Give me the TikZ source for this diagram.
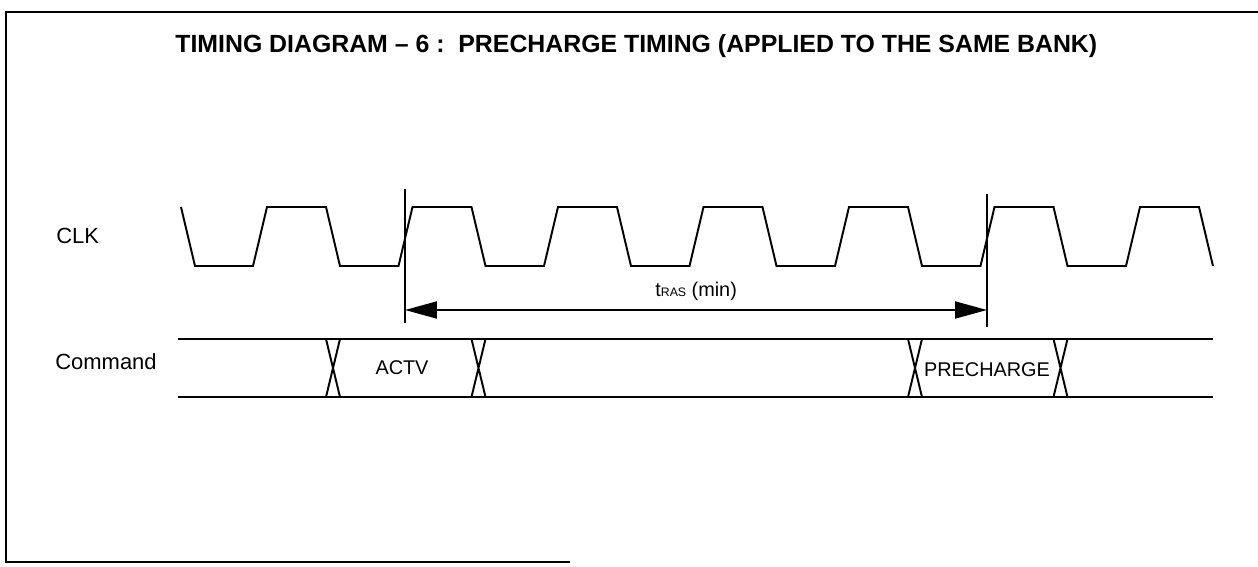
\documentclass[tikz,border=0pt]{standalone}
\usepackage{fontspec}
\setmainfont{Liberation Sans}
\usetikzlibrary{arrows.meta}
\begin{document}
\begin{tikzpicture}[x=0.02cm,y=-0.02cm,
  wave/.style={line width=1.1pt, line join=miter},
  busline/.style={line width=1.1pt},
  marker/.style={line width=1.1pt},
  dimarrow/.style={line width=1.1pt, {Triangle[length=0.64cm,width=0.34cm]}-{Triangle[length=0.64cm,width=0.34cm]}},
  sidelbl/.style={inner sep=0pt, anchor=base west, font=\fontsize{12.5}{14}\selectfont},
  buslbl/.style={inner sep=0pt, anchor=base, font=\fontsize{11.3}{13}\selectfont},
  framestyle/.style={line width=0.8pt}]
\useasboundingbox (0,0) rectangle (1258,566);
% frame
\draw[framestyle] (1258,12) -- (6,12) -- (6,562) -- (570,562);
% title
\node[inner sep=0pt, anchor=base west] (title) at (175,52)
  {\resizebox{18.44cm}{!}{\bfseries\fontsize{13.4}{16}\selectfont TIMING DIAGRAM -- 6 :\ \ PRECHARGE TIMING (APPLIED TO THE SAME BANK)}};
% labels
\node[sidelbl] (clk) at (56,243) {CLK};
\node[sidelbl] (cmd) at (55,369) {Command};
% clock
\draw[wave] (181,207) -- (195,266) -- (253,266)
  \foreach \k in {0,...,5} { -- ({253+\k*145.5+14},207) -- ({253+\k*145.5+73},207) -- ({253+\k*145.5+87},266) -- ({253+\k*145.5+145.5},266) }
  -- (1140,207) -- (1199,207) -- (1213,266);
% markers
\coordinate (m1top) at (405,189);
\coordinate (m1bot) at (405,323);
\coordinate (m2top) at (987,194);
\coordinate (m2bot) at (987,327);
\coordinate (a1) at (405,310);
\coordinate (a2) at (987,310);
\draw[marker] (m1top) -- (m1bot);
\draw[marker] (m2top) -- (m2bot);
\draw[dimarrow] (a1) -- (a2);
\node[inner sep=0pt, anchor=base west, font=\fontsize{11.3}{13}\selectfont] (tras) at (655,296)
  {t{\fontsize{7}{8}\selectfont RAS} (min)};
% command bus
\coordinate (b1l) at (178,339);
\coordinate (b1r) at (1213,339);
\coordinate (b2l) at (178,397);
\coordinate (b2r) at (1213,397);
\draw[busline] (b1l) -- (b1r);
\draw[busline] (b2l) -- (b2r);
\foreach \c in {333,478.5,915,1060.5}
  \draw[busline] ({\c-7},339) -- ({\c+7},397) ({\c+7},339) -- ({\c-7},397);
\node[buslbl] (actv) at (402,374) {ACTV};
\node[buslbl] (pre) at (987,376) {PRECHARGE};
\end{tikzpicture}
\end{document}
